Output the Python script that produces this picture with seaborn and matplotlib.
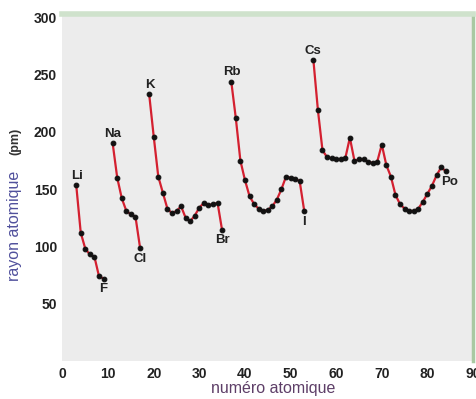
import matplotlib
matplotlib.use("Agg")
import matplotlib.pyplot as plt
import seaborn as sns
import pandas as pd

# ---- data ----
z_li = [3, 4, 5, 6, 7, 8, 9]
r_li = [154, 112, 98, 93, 91, 74, 72]
z_na = [11, 12, 13, 14, 15, 16, 17]
r_na = [190, 160, 142, 131, 128, 126, 99]
z_k = list(range(19, 36))
r_k = [233, 196, 161, 147, 133, 129, 131, 135, 125, 122, 127, 134, 138, 136, 137, 138, 114]
z_rb = list(range(37, 54))
r_rb = [244, 212, 175, 158, 144, 137, 133, 131, 132, 135, 141, 150, 161, 160, 159, 157, 131]
z_cs = list(range(55, 85))
r_cs = [263, 219, 184, 178, 177, 176, 176, 177, 195, 175, 176, 176, 174, 173, 174, 189,
        171, 161, 145, 137, 133, 131, 131, 133, 139, 146, 153, 162, 169, 166]

series_names = ["Li-F", "Na-Cl", "K-Br", "Rb-I", "Cs-Po"]
elem_labels = ["Li", "F", "Na", "Cl", "K", "Br", "Rb", "I", "Cs", "Po"]
elem_z = [3, 9, 11, 17, 19, 35, 37, 53, 55, 84]

x_ticks = [0, 10, 20, 30, 40, 50, 60, 70, 80, 90]
y_ticks = [50, 100, 150, 200, 250, 300]

frames = []
for name, zs, rs in zip(series_names, [z_li, z_na, z_k, z_rb, z_cs], [r_li, r_na, r_k, r_rb, r_cs]):
    frames.append(pd.DataFrame({"Z": zs, "r": rs, "serie": name}))
df = pd.concat(frames, ignore_index=True)

sns.set_style("white")
plt.rcParams["font.family"] = ["Liberation Sans", "DejaVu Sans"]

fig = plt.figure(figsize=(4.77, 3.99), dpi=100)
ax = fig.add_axes([62.5 / 477, 38 / 399, 410.5 / 477, 347 / 399])
ax.set_facecolor("#ececec")

sns.lineplot(data=df, x="Z", y="r", units="serie", estimator=None, ax=ax,
             color="#d42030", linewidth=1.6, marker="o", markersize=3.4,
             markerfacecolor="#111111", markeredgecolor="#111111", sort=False)

ax.set_xlim(0, 90)
ax.set_ylim(0, 303)
ax.set_xticks(x_ticks)
ax.set_yticks(y_ticks)
ax.set_xlabel("")
ax.set_ylabel("")
ax.tick_params(axis="both", direction="in", length=5, width=1.3, color="#444444",
               labelsize=10, pad=4, labelcolor="#222222")
for lab in ax.get_xticklabels() + ax.get_yticklabels():
    lab.set_fontweight("bold")

for s in ["left", "bottom"]:
    ax.spines[s].set_visible(False)
ax.spines["top"].set_color("#cfe2cc")
ax.spines["top"].set_linewidth(4)
ax.spines["right"].set_color("#a9c9a2")
ax.spines["right"].set_linewidth(2.5)

# element labels
lookup = dict(zip(df["Z"], df["r"]))
offsets = {"Li": (1, 9), "F": (0, -10), "Na": (0, 9), "Cl": (0, -11), "K": (1, 9),
           "Br": (0, -10), "Rb": (1, 10), "I": (0, -11), "Cs": (0, 9), "Po": (4, -11)}
for name, z in zip(elem_labels, elem_z):
    ax.annotate(name, (z, lookup[z]), xytext=offsets[name], textcoords="offset pixels",
                ha="center", va="center", fontsize=9.5, fontweight="bold", color="#222222")

fig.text(15 / 477, 1 - 226 / 399, "rayon atomique", rotation=90, ha="center", va="center",
         fontsize=11.5, color="#50509c")
fig.text(15 / 477, 1 - 141 / 399, "(pm)", rotation=90, ha="center", va="center",
         fontsize=9, fontweight="bold", color="#333333")
fig.text(273 / 477, 1 - 389 / 399, "numéro atomique", ha="center", va="center",
         fontsize=11.5, color="#5e3f68")

fig.savefig("out.png", dpi=100)
